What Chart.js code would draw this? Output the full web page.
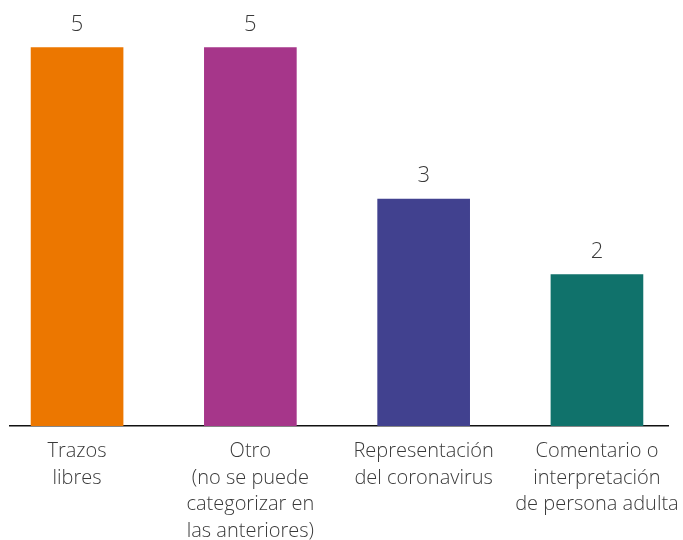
<!DOCTYPE html>
<html>
<head>
<meta charset="utf-8">
<script src="https://cdn.jsdelivr.net/npm/chart.js@4"></script>
<style>
  html, body { margin: 0; padding: 0; background: #fff; }
  #wrap { width: 683px; height: 540px; position: relative; }
</style>
</head>
<body>
<div id="wrap"><canvas id="myChart"></canvas></div>
<script>
// datos del grafico
const categories = [
  ['Trazos', 'libres'],
  ['Otro', '(no se puede', 'categorizar en', 'las anteriores)'],
  ['Representación', 'del coronavirus'],
  ['Comentario o', 'interpretación', 'de persona adulta'],
];
const values = [5, 5, 3, 2];
const colors = ['#EC7700', '#A6368A', '#41418F', '#10726B'];

const fontFamily = "'Open Sans', sans-serif";
const textColor = '#3a3a3a';

// etiquetas de valor encima de cada barra
const valueLabels = {
  id: 'valueLabels',
  afterDatasetsDraw(chart) {
    const ctx = chart.ctx;
    const meta = chart.getDatasetMeta(0);
    ctx.save();
    ctx.font = `300 22px ${fontFamily}`;
    ctx.fillStyle = textColor;
    ctx.textAlign = 'center';
    ctx.textBaseline = 'middle';
    meta.data.forEach((bar, i) => {
      ctx.fillText(values[i], bar.x, bar.y - 23);
    });
    ctx.restore();
  }
};

const data = {
  datasets: [{
    data: values.map((v, i) => ({ x: i, y: v })),
    backgroundColor: colors,
    borderWidth: 0,
    barThickness: 92,
  }]
};

const config = {
  type: 'bar',
  data,
  options: {
    responsive: true,
    maintainAspectRatio: false,
    animation: false,
    layout: { padding: { left: 10, right: 15, top: 0, bottom: 0 } },
    plugins: {
      legend: { display: false },
      tooltip: { enabled: false },
    },
    scales: {
      x: {
        type: 'linear',
        offset: false,
        min: -0.387,
        max: 3.41,
        grid: { display: false, drawTicks: false },
        border: { display: true, color: '#111', width: 1.5 },
        afterBuildTicks: (scale) => {
          scale.ticks = categories.map((c, i) => ({ value: i }));
        },
        afterFit: (scale) => {
          // alto fijo del eje y sin relleno extra por las etiquetas largas
          scale.height = 114;
          scale.paddingLeft = 0;
          scale.paddingRight = 0;
        },
        ticks: {
          padding: 12,
          autoSkip: false,
          maxRotation: 0,
          color: textColor,
          font: { family: fontFamily, size: 20, weight: 300, lineHeight: 1.33 },
          callback: (value) => categories[value] || '',
        },
      },
      y: {
        display: false,
        min: 0,
        max: 5.63,
      }
    }
  },
  plugins: [valueLabels]
};

var chart = document.querySelector('#myChart');
var myChart = new Chart(chart, config);
</script>
</body>
</html>
